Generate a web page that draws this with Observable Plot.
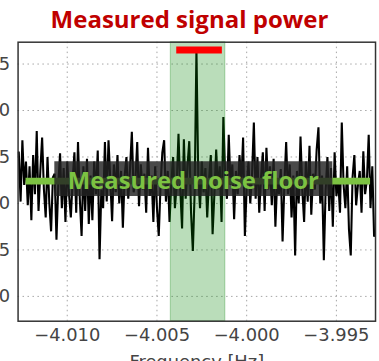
<!DOCTYPE html>
<html>
<head>
<meta charset="utf-8">
<script src="https://cdn.jsdelivr.net/npm/d3@7"></script>
<script src="https://cdn.jsdelivr.net/npm/@observablehq/plot@0.6"></script>
<style>
  html, body { margin: 0; padding: 0; background: #fff; }
  body { width: 379px; height: 361px; overflow: hidden; position: relative; }
  #title {
    position: absolute; top: 7px; left: 0; width: 379px;
    text-align: center; line-height: 24px;
    font-family: "Open Sans", sans-serif; font-weight: 700; font-size: 24px;
    color: #c00000;
  }
  #chart { position: absolute; top: 0; left: -42px; }
</style>
</head>
<body>
<div id="chart"></div>
<div id="title"></div>
<script>
// Power spectrum around the carrier (dB), one value per frequency bin
const freqStart = -4.0127;   // Hz, first bin
const freqStep = 0.0001;     // Hz, bin width
const power = [
  -64.5, -69.8, -63.2, -68.0, -65.5, -70.2, -66.0, -71.8, -64.8, -69.0,
  -62.2, -70.8, -66.5, -62.9, -68.5, -71.5, -65.0, -69.9, -73.0, -67.2,
  -66.8, -73.9, -68.0, -64.6, -70.5, -66.2, -72.0, -65.5, -69.0, -71.5,
  -67.5, -64.5, -71.0, -63.4, -69.5, -73.5, -66.0, -70.8, -65.2, -72.2,
  -67.0, -71.8, -65.5, -69.0, -64.3, -76.0, -68.5, -70.5, -63.4, -69.8,
  -63.2, -67.5, -71.9, -65.8, -68.8, -64.8, -70.0, -66.5, -72.6, -67.0,
  -65.0, -69.5, -66.2, -62.3, -68.8, -67.5, -63.4, -70.3, -65.8, -68.5,
  -66.8, -71.0, -64.0, -69.2, -67.0, -72.0, -66.0, -70.5, -73.5, -68.0,
  -64.5, -63.2, -69.8, -66.5, -72.0, -67.8, -65.0, -70.5, -68.0, -62.5,
  -68.5, -72.7, -63.1, -69.5, -66.0, -63.3, -71.0, -75.1, -68.8, -53.5,
  -67.0, -70.5, -65.5, -68.8, -66.2, -71.5, -67.5, -64.8, -73.3, -69.0,
  -64.2, -68.5, -66.0, -72.0, -60.7, -67.0, -69.5, -62.6, -68.0, -65.8,
  -71.7, -66.5, -69.0, -64.8, -67.8, -62.9, -73.5, -68.2, -65.5, -70.0,
  -66.8, -61.3, -69.5, -65.0, -71.0, -67.2, -64.5, -70.8, -64.0, -68.5,
  -66.0, -70.2, -65.2, -72.5, -67.5, -69.0, -66.3, -74.1, -68.0, -63.4,
  -69.0, -65.8, -71.5, -67.0, -75.6, -66.5, -70.0, -62.8, -68.5, -72.0,
  -65.5, -69.8, -63.8, -71.2, -66.8, -68.5, -64.2, -61.8, -70.0, -67.0,
  -76.1, -68.5, -65.0, -70.8, -66.2, -72.5, -64.5, -69.2, -67.5, -71.0,
  -61.3, -68.0, -70.5, -66.0, -72.8, -75.6, -67.2, -64.8, -70.2, -68.0,
  -66.5, -71.0, -64.4, -69.0, -67.5, -62.6, -70.5, -66.0, -73.5
];

// Axes
const xDomain = [-4.01274, -3.99282];
const yDomain = [-82.67, -52.65];
const xTicks = [-4.010, -4.005, -4.000, -3.995];
const yTicks = [-80, -75, -70, -65, -60, -55];

// Signal window and measured levels
const band = [-4.00423, -4.00119];
const noiseFloor = -67.6;

// Text
const titleText = "Measured signal power";
const noiseLabel = "Measured noise floor";
const xLabel = "Frequency [Hz]";

const spectrum = power.map((p, i) => ({freq: freqStart + i * freqStep, power: p}));
const signalPeak = d3.max(power);

document.getElementById("title").textContent = titleText;

const chart = Plot.plot({
  width: 424,
  height: 375,
  marginLeft: 60,
  marginRight: 4,
  marginTop: 42,
  marginBottom: 52,
  style: {fontFamily: "DejaVu Sans, sans-serif", fontSize: "18px", color: "#444", background: "transparent"},
  x: {domain: xDomain, ticks: xTicks, tickFormat: d3.format(".3f"), tickSize: 0, tickPadding: 7,
      label: xLabel, labelAnchor: "center", labelArrow: "none", labelOffset: 47},
  y: {domain: yDomain, ticks: yTicks, tickFormat: d3.format("d"), tickSize: 0, tickPadding: 8, label: null},
  marks: [
    // dotted grid
    Plot.ruleX(xTicks, {stroke: "#a5a5a5", strokeDasharray: "1.5,3.5", strokeWidth: 1}),
    Plot.ruleY(yTicks, {stroke: "#a5a5a5", strokeDasharray: "1.5,3.5", strokeWidth: 1}),
    // spectrum trace
    Plot.line(spectrum, {x: "freq", y: "power", stroke: "#000", strokeWidth: 2.1, strokeLinejoin: "miter"}),
    // signal window
    Plot.rect([band], {x1: d => d[0], x2: d => d[1], y1: yDomain[0], y2: yDomain[1],
      fill: "green", fillOpacity: 0.27, stroke: "green", strokeOpacity: 0.3}),
    // measured signal power
    Plot.ruleY([signalPeak], {x1: band[0], x2: band[1], stroke: "#ff0000", strokeWidth: 7,
      insetLeft: 6, insetRight: 3}),
    Plot.frame({stroke: "#333", strokeWidth: 1.5}),
    // measured noise floor
    Plot.ruleY([noiseFloor], {stroke: "#7cc242", strokeWidth: 7, insetLeft: 8, insetRight: 5}),
    Plot.ruleY([noiseFloor], {stroke: "#222", strokeOpacity: 0.82, strokeWidth: 35, dy: -2.5,
      insetLeft: 37, insetRight: 43}),
    Plot.text([noiseFloor], {y: d => d, frameAnchor: "middle", text: () => noiseLabel, dx: -3.5,
      fill: "#7cc242", fontFamily: "Open Sans, sans-serif", fontWeight: 700, fontSize: 24})
  ]
});
document.getElementById("chart").appendChild(chart);
</script>
</body>
</html>
